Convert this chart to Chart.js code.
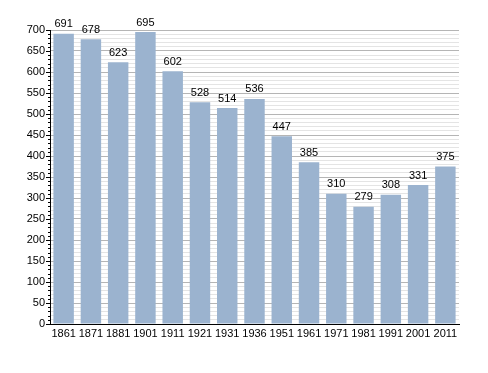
<!DOCTYPE html>
<html>
<head>
<meta charset="utf-8">
<script src="https://cdn.jsdelivr.net/npm/chart.js@4"></script>
<style>
  html, body { margin: 0; padding: 0; background: #fff; }
  #wrap { width: 488px; height: 373px; position: relative; }
</style>
</head>
<body>
<div id="wrap"><canvas id="c"></canvas></div>
<script>
const years = ['1861', '1871', '1881', '1901', '1911', '1921', '1931', '1936', '1951', '1961', '1971', '1981', '1991', '2001', '2011'];
const population = [691, 678, 623, 695, 602, 528, 514, 536, 447, 385, 310, 279, 308, 331, 375];
const yMax = 700;
const yStep = 10;
const yLabelStep = 50;

const FONT = "'Liberation Sans', Arial, sans-serif";

// value labels above the bars
const valueLabels = {
    id: 'valueLabels',
    afterDatasetsDraw(chart) {
        const { ctx } = chart;
        ctx.save();
        ctx.font = '11px ' + FONT;
        ctx.fillStyle = '#000';
        ctx.textAlign = 'center';
        ctx.textBaseline = 'bottom';
        const meta = chart.getDatasetMeta(0);
        meta.data.forEach((bar, i) => {
            ctx.fillText(population[i], bar.x, bar.y - 4);
        });
        ctx.restore();
    }
};

// small ticks on the y axis: long every 50, short every 10
const axisTicks = {
    id: 'axisTicks',
    afterDraw(chart) {
        const { ctx } = chart;
        const y = chart.scales.y;
        const x0 = chart.chartArea.left;
        ctx.save();
        ctx.strokeStyle = '#000';
        ctx.lineWidth = 1;
        y.ticks.forEach(t => {
            const py = Math.round(y.getPixelForValue(t.value)) + 0.5;
            const len = t.value % yLabelStep === 0 ? 4 : 2;
            ctx.beginPath();
            ctx.moveTo(x0 - len, py);
            ctx.lineTo(x0, py);
            ctx.stroke();
        });
        ctx.restore();
    }
};

new Chart(document.getElementById('c'), {
    type: 'bar',
    data: {
        labels: years,
        datasets: [{
            data: population,
            backgroundColor: '#9bb3cf',
            borderWidth: 0,
            barPercentage: 0.75,
            categoryPercentage: 1.0
        }]
    },
    options: {
        responsive: true,
        maintainAspectRatio: false,
        animation: false,
        layout: { padding: { top: 30, right: 29, bottom: 0, left: 0 } },
        plugins: {
            legend: { display: false },
            tooltip: { enabled: false }
        },
        scales: {
            y: {
                min: 0,
                max: yMax,
                afterFit: s => { s.width = 50; },
                ticks: {
                    stepSize: yStep,
                    autoSkip: false,
                    padding: 5,
                    color: '#000',
                    font: { size: 11, family: FONT },
                    callback: v => (v % yLabelStep === 0 ? v : '')
                },
                grid: {
                    drawTicks: false,
                    color: c => (c.tick && c.tick.value % yLabelStep === 0 ? '#b5b5b5' : '#e4e4e4'),
                    lineWidth: 1
                },
                border: { color: '#000', width: 1 }
            },
            x: {
                afterFit: s => { s.height = 49; },
                ticks: {
                    color: '#000',
                    padding: 3,
                    maxRotation: 0,
                    autoSkip: false,
                    font: { size: 11, family: FONT }
                },
                grid: { display: false, drawTicks: false },
                border: { color: '#000', width: 1 }
            }
        }
    },
    plugins: [valueLabels, axisTicks]
});
</script>
</body>
</html>
